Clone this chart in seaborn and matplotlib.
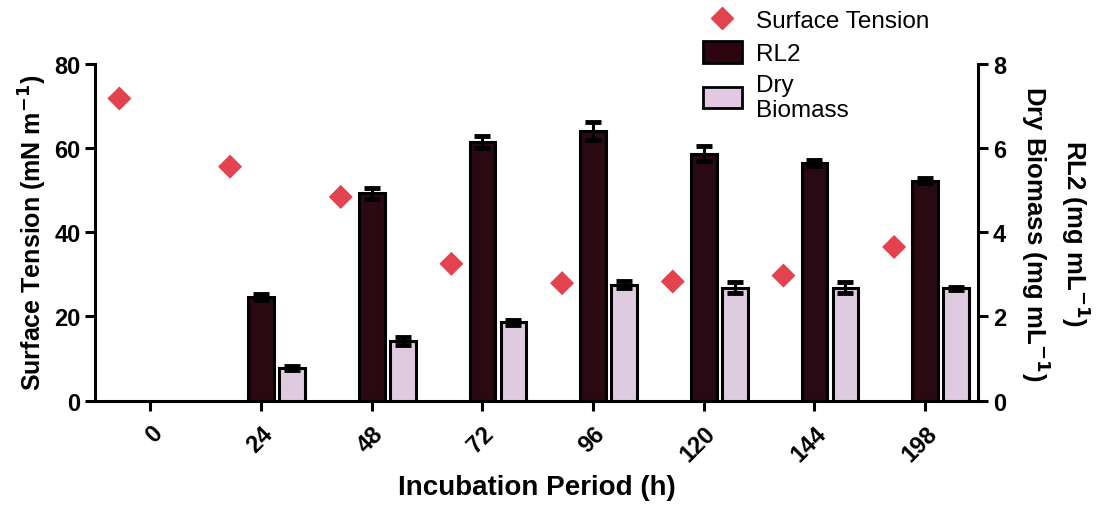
import numpy as np
import pandas as pd
import matplotlib
matplotlib.use("Agg")
import matplotlib.pyplot as plt
import seaborn as sns
from matplotlib.lines import Line2D
from matplotlib.patches import Patch

# ---- data ----
times = ["0", "24", "48", "72", "96", "120", "144", "198"]
surface_tension = [71.8, 55.6, 48.4, 32.5, 27.9, 28.3, 29.7, 36.5]
rl2 = [np.nan, 2.46, 4.93, 6.15, 6.40, 5.87, 5.65, 5.23]
rl2_err = [np.nan, 0.08, 0.13, 0.14, 0.21, 0.17, 0.07, 0.05]
biomass = [np.nan, 0.77, 1.42, 1.86, 2.75, 2.68, 2.68, 2.67]
biomass_err = [np.nan, 0.05, 0.10, 0.06, 0.08, 0.13, 0.13, 0.04]

sns.set_style("white")
plt.rcParams['font.family'] = ['Liberation Sans', 'DejaVu Sans']
plt.rcParams['axes.unicode_minus'] = False
plt.rcParams['text.color'] = 'black'
plt.rcParams['axes.labelcolor'] = 'black'
plt.rcParams['xtick.color'] = 'black'
plt.rcParams['ytick.color'] = 'black'

C_ST = "#e2434f"
C_RL2 = "#2e0410"
C_BIO = "#e2c8e2"

fig = plt.figure(figsize=(11.18, 5.06), dpi=100)
ax = fig.add_axes([0.085, 0.2065, 0.79, 0.665])
ax2 = ax.twinx()

levels = ["Surface Tension", "RL2", "Dry Biomass"]
df = pd.DataFrame({
    "time": times * 2,
    "series": ["RL2"] * len(times) + ["Dry Biomass"] * len(times),
    "value": rl2 + biomass,
})

sns.barplot(data=df, x="time", y="value", hue="series", hue_order=levels,
            order=times, palette={"Surface Tension": C_ST, "RL2": C_RL2, "Dry Biomass": C_BIO},
            width=0.84, gap=0.17, edgecolor="black", linewidth=2.2,
            errorbar=None, legend=False, ax=ax2)

# error bars placed on the bars seaborn drew
pts = {"RL2": ([], [], []), "Dry Biomass": ([], [], [])}
for p in ax2.patches:
    cx = p.get_x() + p.get_width() / 2
    h = p.get_height()
    if not np.isfinite(h) or h == 0:
        continue
    idx = int(round(cx))
    key = "Dry Biomass" if cx - idx > 0.1 else "RL2"
    err = biomass_err[idx] if key == "Dry Biomass" else rl2_err[idx]
    pts[key][0].append(cx)
    pts[key][1].append(h)
    pts[key][2].append(err)
for key, (xs, hs, es) in pts.items():
    if xs:
        ax2.errorbar(xs, hs, yerr=es, fmt="none", ecolor="black",
                     elinewidth=2.2, capsize=6, capthick=3.5, zorder=5)

dodge = 0.28
sns.scatterplot(x=np.arange(len(times)) - dodge, y=surface_tension, marker="D",
                s=150, color=C_ST, edgecolor="none", ax=ax, zorder=4)

ax.set_xlim(-0.5, 7.48)
ax.set_ylim(0, 80)
ax2.set_ylim(0, 8)
ax.set_yticks([0, 20, 40, 60, 80])
ax2.set_yticks([0, 2, 4, 6, 8])
ax2.set_xlabel("")
ax2.set_ylabel("")

for a in (ax, ax2):
    for s in a.spines.values():
        s.set_linewidth(2.2)
        s.set_color("black")
    a.spines["top"].set_visible(False)
ax.spines["right"].set_visible(False)
ax2.spines["left"].set_visible(False)
ax2.spines["bottom"].set_visible(False)

ax.tick_params(axis="both", direction="out", length=7, width=2.2, color="black",
               labelsize=17, left=True, bottom=True)
ax.tick_params(axis="x", pad=8)
ax2.tick_params(axis="y", direction="out", length=7, width=2.2, color="black",
                labelsize=17, right=True)
ax2.tick_params(axis="x", labelbottom=False, bottom=False)
for lbl in ax.get_yticklabels() + ax2.get_yticklabels():
    lbl.set_fontweight("bold")
ax.set_xticks(range(len(times)))
ax.set_xticklabels(times, rotation=45, ha="right", rotation_mode="anchor",
                   fontweight="bold", fontsize=17)

ax.set_xlabel("Incubation Period (h)", fontsize=20, fontweight="bold", labelpad=6)
ax.set_ylabel("Surface Tension (mN m$^{\\mathbf{-1}}$)", fontsize=18, fontweight="bold", labelpad=4)
ax2.set_ylabel("RL2 (mg mL$^{\\mathbf{-1}}$)\nDry Biomass (mg mL$^{\\mathbf{-1}}$)",
               fontsize=18.5, fontweight="bold", rotation=270, labelpad=62, linespacing=1.25)

handles = [
    Line2D([], [], marker="D", color=C_ST, linestyle="none", markersize=11),
    Patch(facecolor=C_RL2, edgecolor="black", linewidth=2),
    Patch(facecolor=C_BIO, edgecolor="black", linewidth=2),
]
fig.legend(handles, ["Surface Tension", "RL2", "Dry\nBiomass"], loc="upper left",
           bbox_to_anchor=(0.609, 1.025), frameon=False, fontsize=17.5,
           handlelength=1.6, handleheight=1.0, labelspacing=0.35, handletextpad=0.6)

fig.savefig("out.png", dpi=100)
